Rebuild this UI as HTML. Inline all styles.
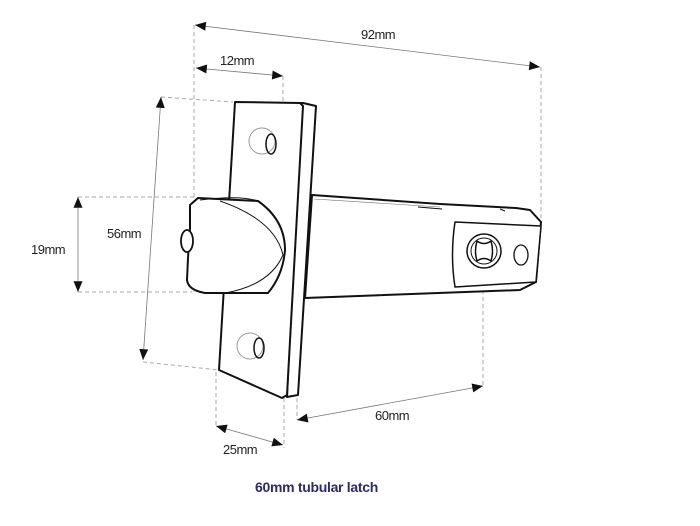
<!DOCTYPE html>
<html><head><meta charset="utf-8"><style>
html,body{margin:0;padding:0;background:#fff;width:700px;height:526px;overflow:hidden}
svg{display:block}
text{font-family:"Liberation Sans",sans-serif;font-size:13px;fill:#222;letter-spacing:-0.5px}
</style></head><body>
<svg width="700" height="526" viewBox="0 0 700 526">
<defs>
<marker id="a" viewBox="0 0 12 10" refX="12" refY="5" markerWidth="12" markerHeight="9" orient="auto-start-reverse" markerUnits="userSpaceOnUse"><path d="M0,0 L12,5 L0,10 z" fill="#111"/></marker>
</defs>
<g stroke="#aaa" stroke-width="1" stroke-dasharray="4,3" fill="none">
<line x1="194" y1="25" x2="194" y2="292"/>
<line x1="541" y1="67" x2="541" y2="222"/>
<line x1="283" y1="76" x2="283" y2="101"/>
<line x1="161" y1="97" x2="233" y2="102"/>
<line x1="143" y1="362" x2="219" y2="370"/>
<line x1="78" y1="197" x2="196" y2="197"/>
<line x1="78" y1="292" x2="192" y2="292"/>
<line x1="216" y1="372" x2="216" y2="426"/>
<line x1="284" y1="398" x2="284" y2="448"/>
<line x1="297" y1="398" x2="297" y2="420"/>
<line x1="483" y1="290" x2="483" y2="386"/>
</g>
<g stroke="#777" stroke-width="0.8" fill="none" marker-start="url(#a)" marker-end="url(#a)">
<line x1="195" y1="25" x2="540" y2="67"/>
<line x1="196" y1="68" x2="283" y2="76"/>
<line x1="161" y1="97" x2="143" y2="360"/>
<line x1="78" y1="197" x2="78" y2="292"/>
<line x1="216" y1="426" x2="283" y2="445"/>
<line x1="297" y1="420" x2="483" y2="386"/>
</g>
<text x="361" y="39">92mm</text>
<text x="220" y="65">12mm</text>
<text x="107" y="238">56mm</text>
<text x="31" y="254">19mm</text>
<text x="223" y="454">25mm</text>
<text x="375" y="420">60mm</text>
<text x="255" y="492" style="font-size:14px;font-weight:bold;fill:#2b2a6e;letter-spacing:-0.3px">60mm tubular latch</text>
<g stroke="#111" stroke-width="2" fill="#fff" stroke-linejoin="round">
<path d="M312,195 L440,204 L516,208 L530,210 L541,222 L536,282 L520,290 L305,298 Z"/>
<path d="M455,222 L541,226 L536,282 L455,287 Q450,255 455,222 Z" stroke-width="1.5"/>
<path d="M300,103 L303,103 L316,106 L298,395 L287,397 Z"/>
<path d="M235,102 L300,103 L303,106 L287,395 L282,398 L219,370 Z"/>
<path d="M198,198 L258,201 Q285,220 285,250 Q283,275 268,293 L205,293 Q188,290 187,280 L188,258 L190,228 L190,205 Z"/>
</g>
<g fill="none" stroke="#111">
<path d="M220,201 Q275,220 283,255 Q270,285 225,293" stroke-width="1"/>
<path d="M200,200 Q240,195 258,201" stroke-width="1"/>
<ellipse cx="187" cy="241" rx="6" ry="11" fill="#fff" stroke-width="1.8"/>
<circle cx="262" cy="141" r="13" stroke="#999" stroke-width="1"/>
<ellipse cx="271" cy="144" rx="5" ry="10" stroke-width="1.5"/>
<circle cx="250" cy="346" r="13" stroke="#999" stroke-width="1"/>
<ellipse cx="259" cy="348" rx="5" ry="10" stroke-width="1.5"/>
<circle cx="484" cy="251" r="17" stroke-width="1.5"/>
<circle cx="484" cy="251" r="13" stroke-width="1"/>
<path d="M477,241 Q484,246 491,241 Q494,251 491,261 Q484,256 477,261 Q474,251 477,241 Z" stroke-width="1.5"/>
<ellipse cx="521" cy="255" rx="7" ry="10" stroke-width="1.3"/>
<path d="M418,207 L442,209 M500,209 L505,211" stroke-width="1"/>
<path d="M314,199 L440,207" stroke="#666" stroke-width="0.6"/>
</g>
</svg>
</body></html>
